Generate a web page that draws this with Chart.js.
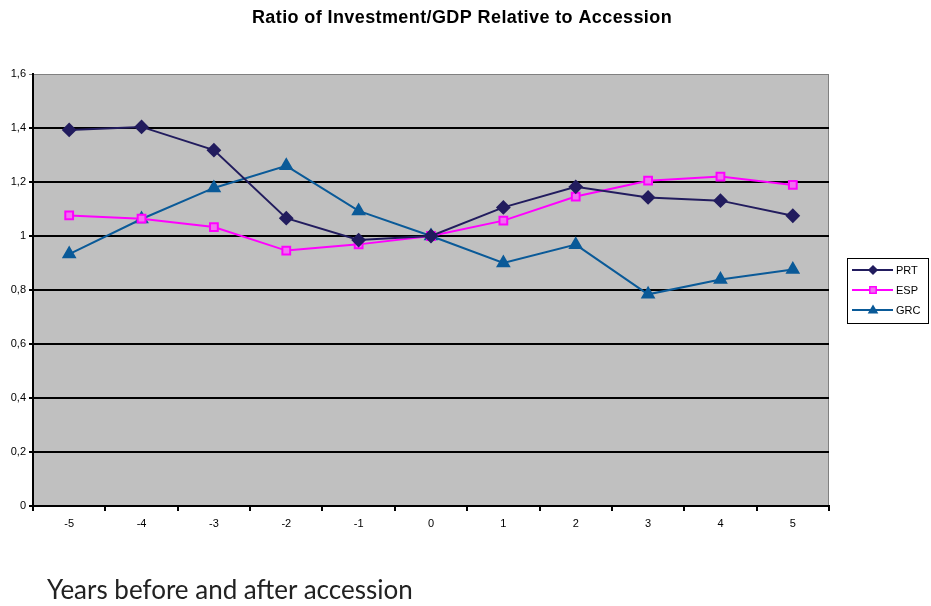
<!DOCTYPE html>
<html>
<head>
<meta charset="utf-8">
<script src="https://cdn.jsdelivr.net/npm/chart.js@4"></script>
<style>
  html, body { margin: 0; padding: 0; background: #fff; }
  #wrap { position: relative; width: 931px; height: 606px; }
  #xNote {
    position: absolute; left: 47px; top: 573px;
    font-family: "Lato", "Open Sans", sans-serif; font-size: 26px; color: #222;
  }
</style>
</head>
<body>
<div id="wrap">
  <canvas id="myChart" width="931" height="606"></canvas>
  <div id="xNote">Years before and after accession</div>
</div>
<script>
// years relative to accession
var years = ["-5", "-4", "-3", "-2", "-1", "0", "1", "2", "3", "4", "5"];
var prtValues = [1.393, 1.404, 1.318, 1.066, 0.985, 1.0, 1.106, 1.182, 1.143, 1.131, 1.075];
var espValues = [1.076, 1.064, 1.033, 0.946, 0.969, 1.0, 1.057, 1.146, 1.205, 1.220, 1.189];
var grcValues = [0.933, 1.063, 1.178, 1.260, 1.093, 1.0, 0.900, 0.968, 0.784, 0.839, 0.876];
var yTicks = [0, 0.2, 0.4, 0.6, 0.8, 1, 1.2, 1.4, 1.6];

const ctx = document.getElementById("myChart").getContext("2d");

// plot background + grey frame on top/right
const plotBg = {
  id: 'plotBg',
  beforeDraw(chart) {
    const a = chart.chartArea;
    const c = chart.ctx;
    c.save();
    c.fillStyle = '#c0c0c0';
    c.fillRect(a.left, a.top, a.right - a.left, a.bottom - a.top);
    c.strokeStyle = '#808080';
    c.lineWidth = 1;
    c.beginPath();
    c.moveTo(a.left, a.top + 0.5);
    c.lineTo(a.right - 0.5, a.top + 0.5);
    c.lineTo(a.right - 0.5, a.bottom);
    c.stroke();
    c.restore();
  }
};

function drawMarker(c, style, x, y, r) {
  if (style === 'rectRot') {
    c.moveTo(x, y - r); c.lineTo(x + r, y); c.lineTo(x, y + r); c.lineTo(x - r, y); c.closePath();
  } else if (style === 'rect') {
    c.rect(x - r * 0.8, y - r * 0.8, r * 1.6, r * 1.6);
  } else {
    c.moveTo(x, y - r); c.lineTo(x + r, y + r * 0.7); c.lineTo(x - r, y + r * 0.7); c.closePath();
  }
}

// title and framed legend drawn by hand
const extras = {
  id: 'extras',
  afterDraw(chart) {
    const c = chart.ctx;
    c.save();
    c.fillStyle = '#000';
    c.font = 'bold 18px "Liberation Sans", Arial, sans-serif';
    c.letterSpacing = '0.4px';
    c.textAlign = 'center';
    c.textBaseline = 'middle';
    c.fillText('Ratio of Investment/GDP Relative to Accession', 462, 18);
    c.letterSpacing = '0px';

    // legend box
    c.fillStyle = '#fff';
    c.fillRect(847, 258, 81, 65);
    c.strokeStyle = '#000';
    c.lineWidth = 1;
    c.strokeRect(847.5, 258.5, 81, 65);
    c.font = '11px "Liberation Sans", Arial, sans-serif';
    c.textAlign = 'left';
    chart.data.datasets.forEach((ds, i) => {
      const y = 270 + i * 20;
      c.strokeStyle = ds.borderColor;
      c.lineWidth = 2;
      c.beginPath();
      c.moveTo(852, y);
      c.lineTo(893, y);
      c.stroke();
      c.fillStyle = ds.pointBackgroundColor;
      c.strokeStyle = ds.pointBorderColor;
      c.lineWidth = 1.5;
      c.beginPath();
      drawMarker(c, ds.pointStyle, 873, y, 4);
      c.fill();
      c.stroke();
      c.fillStyle = '#000';
      c.fillText(ds.label, 896, y + 1);
    });
    c.restore();
  }
};

var chartData = {
  type: "line",
  data: {
    labels: years,
    datasets: [{
      label: "PRT",
      data: prtValues,
      borderColor: '#221c5e',
      backgroundColor: '#221c5e',
      pointBackgroundColor: '#221c5e',
      pointBorderColor: '#221c5e',
      pointStyle: 'rectRot',
      pointRadius: 6,
      borderWidth: 2,
      tension: 0
    }, {
      label: "ESP",
      data: espValues,
      borderColor: '#ff00ff',
      backgroundColor: '#ff00ff',
      pointBackgroundColor: '#f070f0',
      pointBorderColor: '#ff00ff',
      pointStyle: 'rect',
      pointRadius: 5.5,
      pointBorderWidth: 2,
      borderWidth: 2,
      tension: 0
    }, {
      label: "GRC",
      data: grcValues,
      borderColor: '#0a5a98',
      backgroundColor: '#0a5a98',
      pointBackgroundColor: '#0a5a98',
      pointBorderColor: '#0a5a98',
      pointStyle: 'triangle',
      pointRadius: 6.5,
      borderWidth: 2,
      tension: 0
    }]
  },
  options: {
    responsive: false,
    animation: false,
    layout: { padding: { left: 0, top: 74, right: 102, bottom: 70 } },
    plugins: {
      legend: { display: false },
      title: { display: false },
      tooltip: { enabled: false }
    },
    scales: {
      x: {
        offset: true,
        grid: {
          offset: true,
          drawOnChartArea: false,
          drawTicks: true,
          tickLength: 5,
          color: '#000',
          lineWidth: 2
        },
        border: { color: '#000', width: 2 },
        ticks: {
          color: '#000',
          font: { family: '"Liberation Sans", Arial, sans-serif', size: 11 },
          padding: 6,
          maxRotation: 0
        },
        afterFit(scale) { scale.height = 30; }
      },
      y: {
        min: 0,
        max: 1.6,
        afterBuildTicks(scale) { scale.ticks = yTicks.map(v => ({ value: v })); },
        grid: {
          color: (c) => (c.tick && c.tick.value === 1.6) ? '#808080' : '#000',
          lineWidth: (c) => (c.tick && c.tick.value === 1.6) ? 1 : 2,
          tickLength: 4
        },
        border: { color: '#000', width: 2 },
        ticks: {
          color: '#000',
          font: { family: '"Liberation Sans", Arial, sans-serif', size: 11 },
          padding: 3,
          callback: (v) => String(Math.round(v * 10) / 10).replace('.', ',')
        },
        afterFit(scale) { scale.width = 33; }
      }
    }
  },
  plugins: [plotBg, extras]
};
var invChart = new Chart(ctx, chartData);
</script>
</body>
</html>
